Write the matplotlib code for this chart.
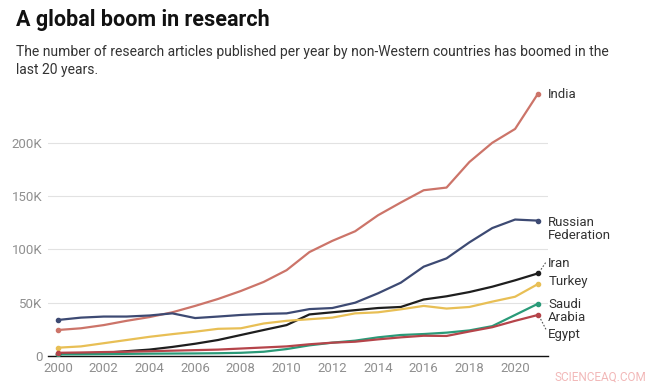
import matplotlib
matplotlib.use("Agg")
import matplotlib.pyplot as plt
from matplotlib.ticker import FuncFormatter

plt.rcParams['font.family'] = ['Roboto', 'DejaVu Sans']

years = list(range(2000, 2022))

india = [24.4, 26, 29, 33, 36.5, 41, 47, 53.5, 61, 69.5, 80.5, 97.5, 108, 117, 132, 144,
         155.5, 158, 182, 200, 213, 246]
russia = [33.8, 36, 37, 37, 38, 40, 35.6, 37, 38.5, 39.5, 40, 44, 45, 50, 58.8, 68.8,
          83.8, 91.6, 106.6, 120, 128, 127]
iran = [2, 2.5, 3, 4.5, 6, 8.5, 11.5, 15, 19.7, 24.4, 29, 39, 41, 43, 45, 46,
        53, 56, 60, 65, 71, 77.5]
turkey = [7.8, 9, 12, 15, 18, 20.5, 22.8, 25.5, 26, 30.5, 33, 34.5, 36, 40, 41, 43.8,
          47, 44.5, 46, 51, 55.6, 67.5]
saudi = [1.5, 1.6, 1.8, 2, 2.2, 2.3, 2.4, 2.6, 3, 4, 6.5, 10, 12.5, 14.4, 17.5, 19.7,
         20.6, 21.9, 24, 28, 38.5, 49]
egypt = [3, 3.3, 3.7, 4, 4.5, 5, 5.5, 6, 7, 8, 9, 11, 12.5, 13.4, 15.6, 17.5,
         19, 18.8, 23, 27, 33, 38.5]

series = [
    ("India", india, "#cc7469"),
    ("Russian\nFederation", russia, "#3d4a73"),
    ("Iran", iran, "#1e1e1e"),
    ("Turkey", turkey, "#e8bf55"),
    ("Saudi\nArabia", saudi, "#2a9a78"),
    ("Egypt", egypt, "#b5444a"),
]

fig = plt.figure(figsize=(6.5, 3.85), dpi=100)
ax = fig.add_axes([48 / 650, 29 / 385, 500 / 650, 266.5 / 385])

for name, vals, col in series:
    v = [x * 1000 for x in vals]
    ax.plot(years, v, color=col, lw=1.6, solid_capstyle='round', zorder=3)
    ax.plot([years[0], years[-1]], [v[0], v[-1]], 'o', color=col, ms=3, zorder=4)

ax.set_xlim(1999.56, 2021.44)
ax.set_ylim(0, 250000)
ax.set_yticks([0, 50000, 100000, 150000, 200000])
ax.yaxis.set_major_formatter(FuncFormatter(lambda v, p: "0" if v == 0 else f"{int(v / 1000)}K"))
ax.set_xticks(range(2000, 2022, 2))
ax.grid(axis='y', color='#e2e2e2', lw=0.8, zorder=0)
for s in ['top', 'right', 'left']:
    ax.spines[s].set_visible(False)
ax.spines['bottom'].set_color('#111111')
ax.spines['bottom'].set_linewidth(1.0)
ax.tick_params(axis='both', length=0, labelsize=9.5, labelcolor='#8f8f8f')
ax.tick_params(axis='y', pad=4)
ax.tick_params(axis='x', pad=4)

# end labels
lab_kw = dict(fontsize=9.5, color='#333333', transform=ax.transData, va='center', ha='left',
              clip_on=False, linespacing=1.05)
xl = 2021.45
ax.text(xl, 245000, "India", **lab_kw)
ax.text(xl, 119000, "Russian\nFederation", **lab_kw)
ax.text(xl, 87000, "Iran", **lab_kw)
ax.text(xl, 70000, "Turkey", **lab_kw)
ax.text(xl, 42000, "Saudi\nArabia", **lab_kw)
ax.text(xl, 20000, "Egypt", **lab_kw)
# leader lines
ax.plot([2021.05, 2021.35], [78500, 88000], ls=(0, (1.5, 1.5)), color='#555555', lw=0.8, clip_on=False)
ax.plot([2021.05, 2021.35], [37500, 25000], ls=(0, (1.5, 1.5)), color='#555555', lw=0.8, clip_on=False)

fig.text(16 / 650, 1 - 20 / 385, "A global boom in research", fontsize=15.5, fontweight='bold',
         color='#111111', va='center', ha='left')
fig.text(16 / 650, 1 - 61 / 385,
         "The number of research articles published per year by non-Western countries has boomed in the\nlast 20 years.",
         fontsize=10, color='#333333', va='center', ha='left', linespacing=1.3)
fig.text(600 / 650, 1 - 377 / 385, "SCIENCEAQ.COM", fontsize=8.5, color='#f2b8b8',
         va='center', ha='center')

fig.savefig("out.png", dpi=100)
